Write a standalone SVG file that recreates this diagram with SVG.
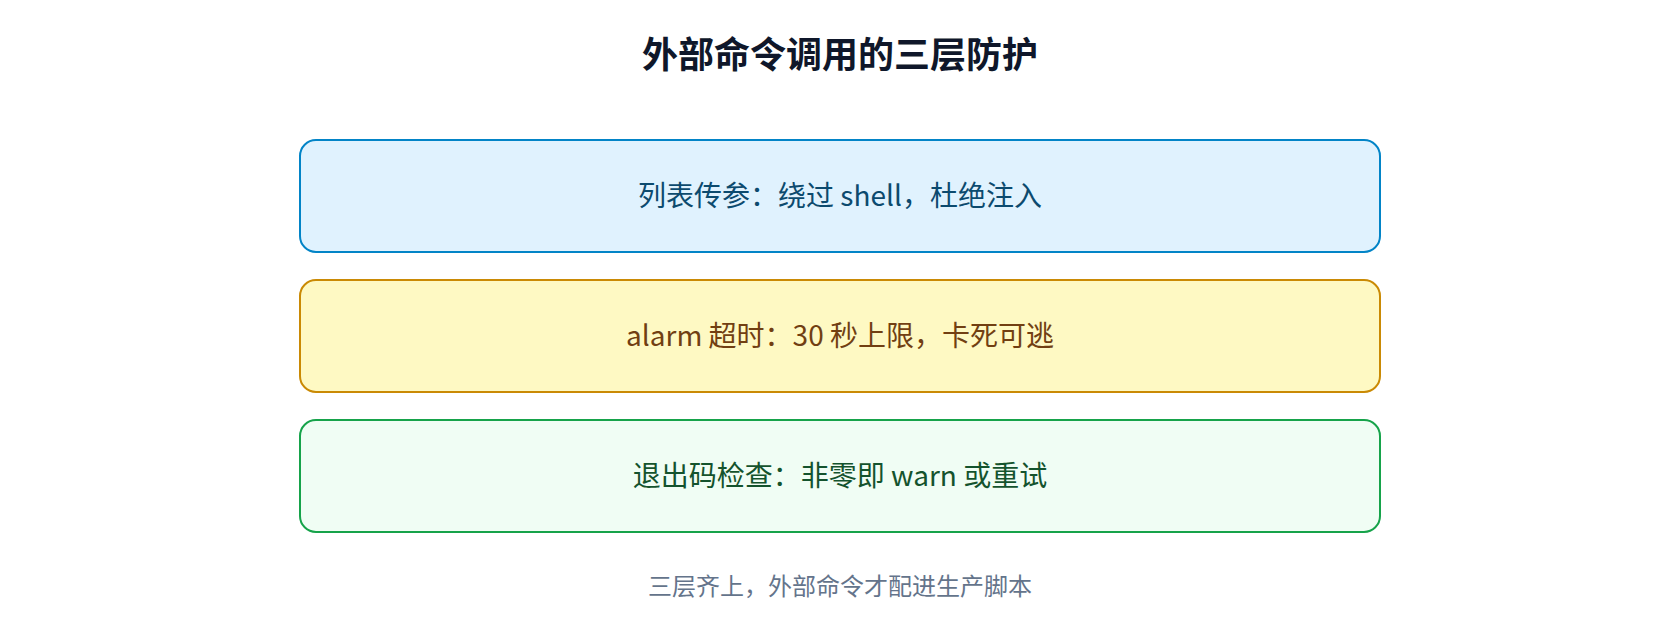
<svg xmlns="http://www.w3.org/2000/svg" width="1680" height="640" viewBox="0 0 1680 640">
<style>
text { font-family: "Noto Sans CJK SC", "Noto Sans", sans-serif; text-anchor: middle; }
.title { font-size: 36px; font-weight: 700; fill: #0f172a; }
.lbl { font-size: 28px; }
.foot { font-size: 24px; fill: #64748b; }
.box { stroke-width: 2; }
</style>
<rect width="1680" height="640" fill="#ffffff"/>
<g id="title"><text class="title" x="840" y="68">外部命令调用的三层防护</text></g>
<g id="layer1">
<rect class="box" x="300" y="140" width="1080" height="112" rx="16" fill="#e0f2fe" stroke="#0284c7"/>
<text class="lbl" x="840" y="206" fill="#0c4a6e">列表传参：绕过 shell，杜绝注入</text>
</g>
<g id="layer2">
<rect class="box" x="300" y="280" width="1080" height="112" rx="16" fill="#fef9c3" stroke="#ca8a04"/>
<text class="lbl" x="840" y="346" fill="#713f12">alarm 超时：30 秒上限，卡死可逃</text>
</g>
<g id="layer3">
<rect class="box" x="300" y="420" width="1080" height="112" rx="16" fill="#f0fdf4" stroke="#16a34a"/>
<text class="lbl" x="840" y="486" fill="#14532d">退出码检查：非零即 warn 或重试</text>
</g>
<g id="connectors"></g>
<g id="footer"><text class="foot" x="840" y="595">三层齐上，外部命令才配进生产脚本</text></g>
</svg>
